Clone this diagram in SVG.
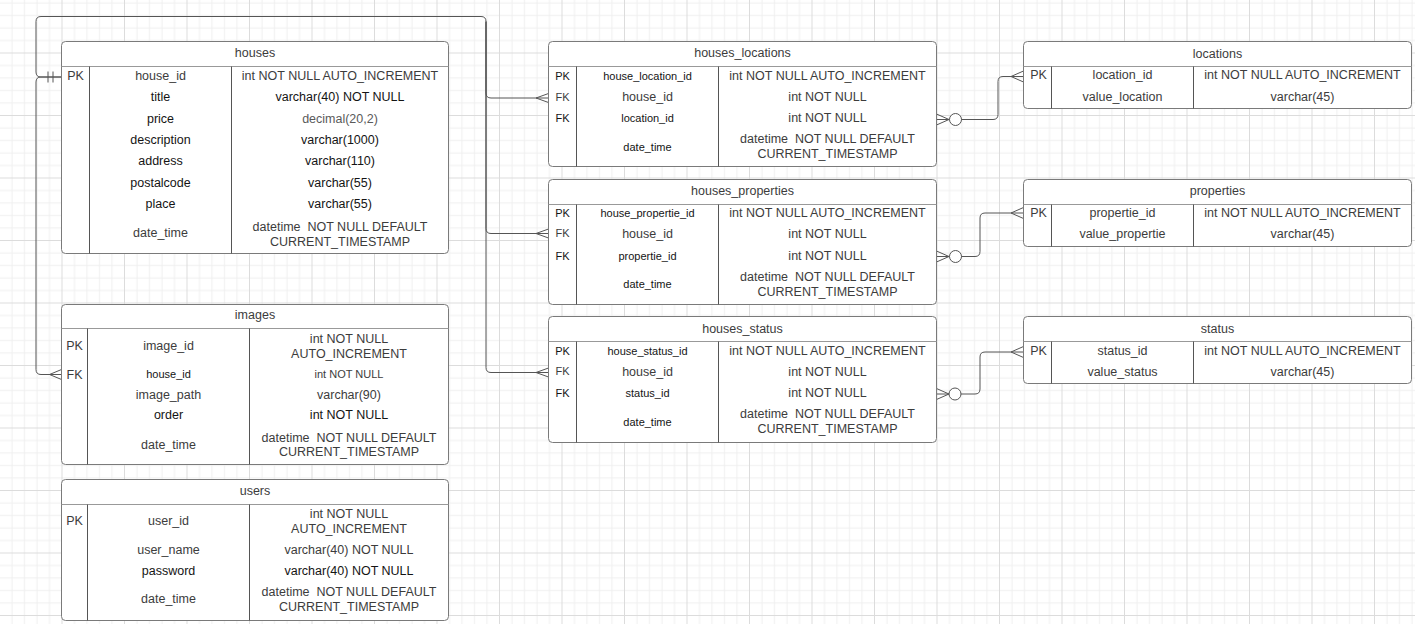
<svg xmlns="http://www.w3.org/2000/svg" width="1415" height="624" viewBox="0 0 1415 624">
<style>
text{font-family:"Liberation Sans",Arial,sans-serif;font-size:12.5px;fill:#3c3c3c;text-anchor:middle;white-space:pre}
.s{font-size:11px}
.k{fill:#141414}
.g5{fill:#5a5a5a}
.tb{fill:#fff;stroke:#7a7a7a;stroke-width:1}
.hl{stroke:#999;stroke-width:1}
.dv{stroke:#555;stroke-width:1}
.cn{fill:none;stroke:#555;stroke-width:1}
.ci{fill:#fff;stroke:#555;stroke-width:1}
</style>
<defs>
<pattern id="grid" patternUnits="userSpaceOnUse" x="-1" y="52.5" width="62.5" height="62.5">
<rect x="12.5" y="0" width="1" height="62.5" fill="#efefef"/>
<rect x="25" y="0" width="1" height="62.5" fill="#efefef"/>
<rect x="37.5" y="0" width="1" height="62.5" fill="#efefef"/>
<rect x="50" y="0" width="1" height="62.5" fill="#efefef"/>
<rect x="0" y="12.5" width="62.5" height="1" fill="#efefef"/>
<rect x="0" y="25" width="62.5" height="1" fill="#efefef"/>
<rect x="0" y="37.5" width="62.5" height="1" fill="#efefef"/>
<rect x="0" y="50" width="62.5" height="1" fill="#efefef"/>
<rect x="0" y="0" width="1" height="62.5" fill="#dcdcdc"/>
<rect x="0" y="0" width="62.5" height="1" fill="#dcdcdc"/>
</pattern>
</defs>
<rect width="1415" height="624" fill="#fff"/>
<rect width="1415" height="624" fill="url(#grid)"/>

<g id="connectors">
<path class="cn" d="M61.5,77 H41 Q36,77 36,82 V369.5 Q36,374.5 41,374.5 H61.5"/>
<path class="cn" d="M49.5,374.5 L61.5,369.5 M49.5,374.5 L61.5,379.5"/>
<path class="cn" d="M48,71.5 V82.5 M53,71.5 V82.5"/>
<path class="cn" d="M61.5,77 H41 Q36,77 36,72 V21.5 Q36,16.5 41,16.5 H481 Q486,16.5 486,21.5 V93 Q486,98 491,98 H548.5"/>
<path class="cn" d="M486,21.5 V228.5 Q486,233.5 491,233.5 H548.5"/>
<path class="cn" d="M486,21.5 V367.5 Q486,372.5 491,372.5 H548.5"/>
<path class="cn" d="M536,98 L548.5,93.5 M536,98 L548.5,102.5"/>
<path class="cn" d="M536,233.5 L548.5,229 M536,233.5 L548.5,238"/>
<path class="cn" d="M536,372.5 L548.5,368 M536,372.5 L548.5,377"/>

<path class="cn" d="M936.5,119.5 H961.5 M949,119.5 L936.5,114 M949,119.5 L936.5,125"/>
<circle class="ci" cx="955.5" cy="119.5" r="6"/>
<path class="cn" d="M961.5,119.5 H993 Q998,119.5 998,114.5 V81.5 Q998,76.5 1003,76.5 H1023.5 M1011,76.5 L1023.5,71 M1011,76.5 L1023.5,82"/>

<path class="cn" d="M936.5,256.5 H961.5 M949,256.5 L936.5,251 M949,256.5 L936.5,262"/>
<circle class="ci" cx="955.5" cy="256.5" r="6"/>
<path class="cn" d="M961.5,256.5 H975 Q980,256.5 980,251.5 V218 Q980,213 985,213 H1023.5 M1011,213 L1023.5,207.5 M1011,213 L1023.5,218.5"/>

<path class="cn" d="M936.5,394 H961 M949,394 L936.5,388.5 M949,394 L936.5,399.5"/>
<circle class="ci" cx="955" cy="394" r="6"/>
<path class="cn" d="M961,394 H975 Q980,394 980,389 V357 Q980,352 985,352 H1023.5 M1011,352 L1023.5,346.5 M1011,352 L1023.5,357.5"/>
</g>

<g id="houses">
<rect class="tb" x="61.5" y="41.5" width="387" height="212" rx="4"/>
<line class="hl" x1="61.5" y1="66.5" x2="448.5" y2="66.5"/>
<line class="dv" x1="89.5" y1="66.5" x2="89.5" y2="253.5"/>
<line class="dv" x1="231.5" y1="66.5" x2="231.5" y2="253.5"/>
<text x="255" y="57.3">houses</text>
<text x="75.5" y="80.3">PK</text>
<text x="160.5" y="80.3">house_id</text>
<text x="340" y="80.3">int NOT NULL AUTO_INCREMENT</text>
<text class="k" x="160.5" y="101.3">title</text>
<text class="k" x="340" y="101.3">varchar(40) NOT NULL</text>
<text class="k" x="160.5" y="122.7">price</text>
<text class="g5" x="340" y="122.7">decimal(20,2)</text>
<text class="k" x="160.5" y="144">description</text>
<text class="k" x="340" y="144">varchar(1000)</text>
<text class="k" x="160.5" y="165.4">address</text>
<text class="k" x="340" y="165.4">varchar(110)</text>
<text class="k" x="160.5" y="186.8">postalcode</text>
<text class="k" x="340" y="186.8">varchar(55)</text>
<text class="k" x="160.5" y="208.2">place</text>
<text class="k" x="340" y="208.2">varchar(55)</text>
<text x="160.5" y="237">date_time</text>
<text x="340" y="230.5">datetime  NOT NULL DEFAULT</text>
<text x="340" y="245.5">CURRENT_TIMESTAMP</text>
</g>

<g id="images">
<rect class="tb" x="61.5" y="304.5" width="387" height="160" rx="4"/>
<line class="hl" x1="61.5" y1="328.5" x2="448.5" y2="328.5"/>
<line class="dv" x1="87.5" y1="328.5" x2="87.5" y2="464.5"/>
<line class="dv" x1="249.5" y1="328.5" x2="249.5" y2="464.5"/>
<text x="255" y="319.3">images</text>
<text x="74.5" y="350">PK</text>
<text x="168.5" y="350">image_id</text>
<text x="349" y="342.5">int NOT NULL</text>
<text x="349" y="357.5">AUTO_INCREMENT</text>
<text x="74.5" y="378.7">FK</text>
<text class="s k" x="168.5" y="378.3">house_id</text>
<text class="s" x="349" y="378.3">int NOT NULL</text>
<text x="168.5" y="398.5">image_path</text>
<text x="349" y="398.5">varchar(90)</text>
<text class="k" x="168.5" y="419.3">order</text>
<text class="k" x="349" y="419.3">int NOT NULL</text>
<text x="168.5" y="448.6">date_time</text>
<text x="349" y="441.6">datetime  NOT NULL DEFAULT</text>
<text x="349" y="456.3">CURRENT_TIMESTAMP</text>
</g>

<g id="users">
<rect class="tb" x="61.5" y="479.5" width="387" height="141" rx="4"/>
<line class="hl" x1="61.5" y1="504.5" x2="448.5" y2="504.5"/>
<line class="dv" x1="87.5" y1="504.5" x2="87.5" y2="620.5"/>
<line class="dv" x1="249.5" y1="504.5" x2="249.5" y2="620.5"/>
<text x="255" y="495">users</text>
<text x="74.5" y="524.6">PK</text>
<text x="168.5" y="524.6">user_id</text>
<text x="349" y="517.6">int NOT NULL</text>
<text x="349" y="532.6">AUTO_INCREMENT</text>
<text x="168.5" y="553.6">user_name</text>
<text x="349" y="553.6">varchar(40) NOT NULL</text>
<text class="k" x="168.5" y="574.6">password</text>
<text class="k" x="349" y="574.6">varchar(40) NOT NULL</text>
<text x="168.5" y="603.2">date_time</text>
<text x="349" y="596">datetime  NOT NULL DEFAULT</text>
<text x="349" y="611.2">CURRENT_TIMESTAMP</text>
</g>

<g id="houses_locations">
<rect class="tb" x="548.5" y="41.5" width="388" height="125" rx="4"/>
<line class="hl" x1="548.5" y1="66.5" x2="936.5" y2="66.5"/>
<line class="dv" x1="576.5" y1="66.5" x2="576.5" y2="166.5"/>
<line class="dv" x1="718.5" y1="66.5" x2="718.5" y2="166.5"/>
<text x="742.5" y="57">houses_locations</text>
<text class="s k" x="562.5" y="79.7">PK</text>
<text class="s k" x="647.5" y="79.7">house_location_id</text>
<text x="827.5" y="80">int NOT NULL AUTO_INCREMENT</text>
<text class="s" x="562.5" y="100.7">FK</text>
<text x="647.5" y="101">house_id</text>
<text x="827.5" y="101">int NOT NULL</text>
<text class="s k" x="562.5" y="121.7">FK</text>
<text class="s k" x="647.5" y="121.7">location_id</text>
<text x="827.5" y="122">int NOT NULL</text>
<text class="s k" x="647.5" y="150.7">date_time</text>
<text x="827.5" y="143.3">datetime  NOT NULL DEFAULT</text>
<text x="827.5" y="158.3">CURRENT_TIMESTAMP</text>
</g>

<g id="houses_properties">
<rect class="tb" x="548.5" y="179.5" width="388" height="125" rx="4"/>
<line class="hl" x1="548.5" y1="204.5" x2="936.5" y2="204.5"/>
<line class="dv" x1="576.5" y1="204.5" x2="576.5" y2="304.5"/>
<line class="dv" x1="718.5" y1="204.5" x2="718.5" y2="304.5"/>
<text x="742.5" y="195">houses_properties</text>
<text class="s k" x="562.5" y="216.7">PK</text>
<text class="s k" x="647.5" y="216.7">house_propertie_id</text>
<text x="827.5" y="217">int NOT NULL AUTO_INCREMENT</text>
<text class="s" x="562.5" y="237.4">FK</text>
<text x="647.5" y="237.6">house_id</text>
<text x="827.5" y="237.6">int NOT NULL</text>
<text class="s k" x="562.5" y="259.8">FK</text>
<text class="s k" x="647.5" y="259.8">propertie_id</text>
<text x="827.5" y="260">int NOT NULL</text>
<text class="s k" x="647.5" y="288">date_time</text>
<text x="827.5" y="281.3">datetime  NOT NULL DEFAULT</text>
<text x="827.5" y="296.3">CURRENT_TIMESTAMP</text>
</g>

<g id="houses_status">
<rect class="tb" x="548.5" y="316.5" width="388" height="126" rx="4"/>
<line class="hl" x1="548.5" y1="341.5" x2="936.5" y2="341.5"/>
<line class="dv" x1="576.5" y1="341.5" x2="576.5" y2="442.5"/>
<line class="dv" x1="718.5" y1="341.5" x2="718.5" y2="442.5"/>
<text x="742.5" y="332.5">houses_status</text>
<text class="s k" x="562.5" y="354.7">PK</text>
<text class="s k" x="647.5" y="354.7">house_status_id</text>
<text x="827.5" y="355">int NOT NULL AUTO_INCREMENT</text>
<text class="s" x="562.5" y="375.3">FK</text>
<text x="647.5" y="375.6">house_id</text>
<text x="827.5" y="375.6">int NOT NULL</text>
<text class="s k" x="562.5" y="396.6">FK</text>
<text class="s k" x="647.5" y="396.6">status_id</text>
<text x="827.5" y="397">int NOT NULL</text>
<text class="s k" x="647.5" y="425.7">date_time</text>
<text x="827.5" y="418.3">datetime  NOT NULL DEFAULT</text>
<text x="827.5" y="432.6">CURRENT_TIMESTAMP</text>
</g>

<g id="locations">
<rect class="tb" x="1023.5" y="41.5" width="388" height="67" rx="4"/>
<line class="hl" x1="1023.5" y1="66.5" x2="1411.5" y2="66.5"/>
<line class="dv" x1="1051.5" y1="66.5" x2="1051.5" y2="108.5"/>
<line class="dv" x1="1193.5" y1="66.5" x2="1193.5" y2="108.5"/>
<text x="1217.5" y="57.5">locations</text>
<text x="1038.5" y="79.4">PK</text>
<text x="1122.5" y="79.4">location_id</text>
<text x="1302.5" y="79.4">int NOT NULL AUTO_INCREMENT</text>
<text x="1122.5" y="101">value_location</text>
<text x="1302.5" y="101">varchar(45)</text>
</g>

<g id="properties">
<rect class="tb" x="1023.5" y="179.5" width="388" height="67" rx="4"/>
<line class="hl" x1="1023.5" y1="204.5" x2="1411.5" y2="204.5"/>
<line class="dv" x1="1051.5" y1="204.5" x2="1051.5" y2="246.5"/>
<line class="dv" x1="1193.5" y1="204.5" x2="1193.5" y2="246.5"/>
<text x="1217.5" y="195">properties</text>
<text x="1038.5" y="216.6">PK</text>
<text x="1122.5" y="216.6">propertie_id</text>
<text x="1302.5" y="216.6">int NOT NULL AUTO_INCREMENT</text>
<text x="1122.5" y="237.6">value_propertie</text>
<text x="1302.5" y="237.6">varchar(45)</text>
</g>

<g id="status">
<rect class="tb" x="1023.5" y="316.5" width="388" height="67" rx="4"/>
<line class="hl" x1="1023.5" y1="341.5" x2="1411.5" y2="341.5"/>
<line class="dv" x1="1051.5" y1="341.5" x2="1051.5" y2="383.5"/>
<line class="dv" x1="1193.5" y1="341.5" x2="1193.5" y2="383.5"/>
<text x="1217.5" y="332.5">status</text>
<text x="1038.5" y="355">PK</text>
<text x="1122.5" y="355">status_id</text>
<text x="1302.5" y="355">int NOT NULL AUTO_INCREMENT</text>
<text x="1122.5" y="375.6">value_status</text>
<text x="1302.5" y="375.6">varchar(45)</text>
</g>
</svg>
